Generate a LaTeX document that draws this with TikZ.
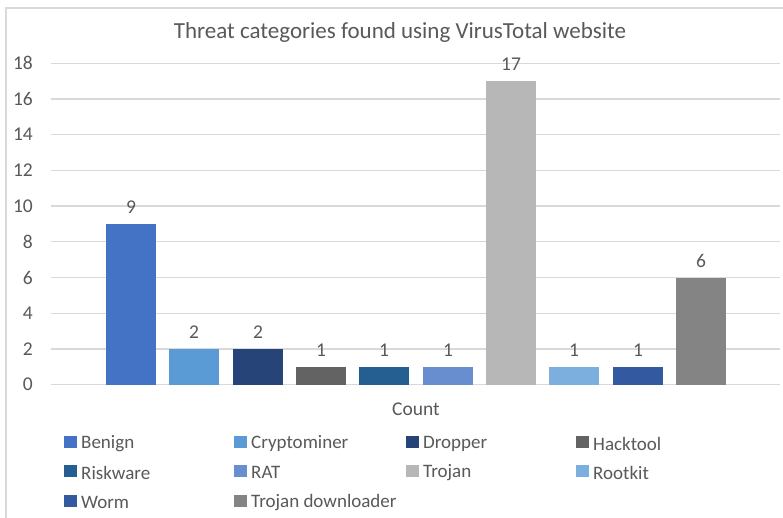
\documentclass[tikz,border=0pt]{standalone}
\usepackage{fontspec}
\setmainfont{Carlito}
\definecolor{txt}{HTML}{595959}
\definecolor{grid}{HTML}{D9D9D9}
\definecolor{cBenign}{HTML}{4472C4}
\definecolor{cCrypto}{HTML}{5B9BD5}
\definecolor{cDropper}{HTML}{264478}
\definecolor{cHack}{HTML}{636363}
\definecolor{cRisk}{HTML}{255E91}
\definecolor{cRAT}{HTML}{698ED0}
\definecolor{cTrojan}{HTML}{B7B7B7}
\definecolor{cRoot}{HTML}{7CAFDD}
\definecolor{cWorm}{HTML}{335AA1}
\definecolor{cTDown}{HTML}{848484}
\tikzset{
  ticklabel/.style={text=txt, font=\fontsize{19.5}{21}\selectfont, anchor=east, inner sep=0pt},
  vallabel/.style={text=txt, font=\fontsize{19.5}{21}\selectfont, inner sep=0pt},
  legtext/.style={text=txt, font=\fontsize{19}{21}\selectfont, anchor=west, inner sep=0pt},
  gridline/.style={draw=grid, line width=1.2pt},
}
\begin{document}
\begin{tikzpicture}[x=1pt, y=-1pt]
\useasboundingbox (0,0) rectangle (783,518);
\fill[white] (0,0) rectangle (783,518);
% chart frame
\draw[grid, line width=1.2pt] (6,8) rectangle (800,540);
% title
\node[text=txt, font=\fontsize{23}{26}\selectfont, inner sep=0pt] (title) at (400,32) {Threat categories found using VirusTotal website};
% gridlines and tick labels
\foreach \v in {0,2,...,18} {
  \draw[gridline] (51,{384.6-17.85*\v}) -- (780,{384.6-17.85*\v});
  \node[ticklabel] (tick\v) at (33,{384.6-17.85*\v}) {\v};
}
% bars with value labels
\foreach \i/\cx/\v/\c in {1/131/9/cBenign, 2/194/2/cCrypto, 3/258/2/cDropper, 4/321/1/cHack, 5/384/1/cRisk, 6/448/1/cRAT, 7/511/17/cTrojan, 8/574/1/cRoot, 9/638/1/cWorm, 10/701/6/cTDown} {
  \fill[\c] ({\cx-25},384.6) rectangle ({\cx+25},{384.6-17.85*\v});
  \node[vallabel] (val\i) at (\cx,{384.6-17.85*\v-16.5}) {\v};
}
% axis title
\node[text=txt, font=\fontsize{19.5}{21}\selectfont, inner sep=0pt] (axis) at (416,409) {Count};
% legend
\foreach \n/\lx/\ly/\c/\t in {l1/64/442/cBenign/Benign, l2/234/442/cCrypto/Cryptominer, l3/406/442/cDropper/Dropper, l4/576/442/cHack/Hacktool,
  l5/64/471/cRisk/Riskware, l6/234/471/cRAT/RAT, l7/406/471/cTrojan/Trojan, l8/576/471/cRoot/Rootkit,
  l9/64/501/cWorm/Worm, l10/234/501/cTDown/Trojan downloader} {
  \fill[\c] (\lx,{\ly-6}) rectangle ({\lx+12.5},{\ly+6});
  \node[legtext] (\n) at ({\lx+17},{\ly+1.5}) {\t};
}
\end{tikzpicture}
\end{document}
